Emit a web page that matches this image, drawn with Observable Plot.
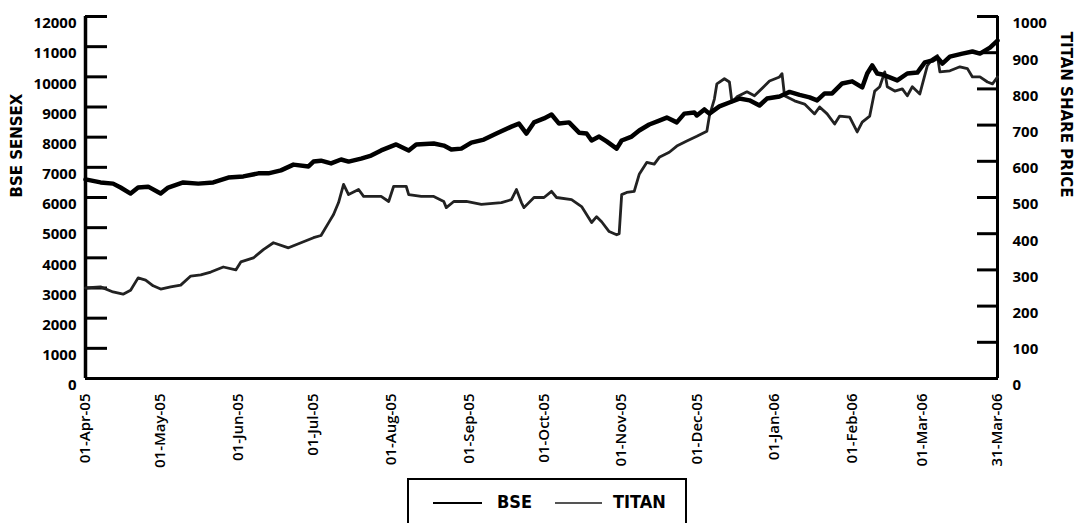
<!DOCTYPE html>
<html><head><meta charset="utf-8">
<script src="https://cdn.jsdelivr.net/npm/d3@7"></script>
<script src="https://cdn.jsdelivr.net/npm/@observablehq/plot@0.6"></script>
<style>
body{margin:0;background:#fff;overflow:hidden;}
#chart svg{display:block;}
#legend{position:relative;margin-left:407px;margin-top:8px;width:280px;height:60px;border:2px solid #000;box-sizing:border-box;font-family:"Liberation Sans Narrow","DejaVu Sans Condensed","Open Sans",sans-serif;font-weight:700;font-size:18px;color:#000;}
#legend .sw{position:absolute;height:2px;top:22px;background:#000;}
#legend .lab{position:absolute;top:11px;line-height:22px;}
</style></head><body>
<div id="chart"></div>
<div id="legend">
  <span class="sw" style="left:24px;width:49px;"></span><span class="lab" style="left:88px;">BSE</span>
  <span class="sw" style="left:146px;width:47px;height:1.5px;background:#555;"></span><span class="lab" style="left:204px;">TITAN</span>
</div>
<script>
const bseDates = ["2005-04-01","2005-04-07","2005-04-12","2005-04-15","2005-04-19","2005-04-22","2005-04-26","2005-05-01","2005-05-04","2005-05-10","2005-05-16","2005-05-22","2005-05-28","2005-06-03","2005-06-09","2005-06-13","2005-06-18","2005-06-23","2005-06-29","2005-07-01","2005-07-04","2005-07-08","2005-07-12","2005-07-15","2005-07-20","2005-07-24","2005-07-28","2005-08-03","2005-08-08","2005-08-11","2005-08-18","2005-08-22","2005-08-25","2005-08-29","2005-09-02","2005-09-07","2005-09-12","2005-09-18","2005-09-21","2005-09-24","2005-09-27","2005-10-01","2005-10-04","2005-10-07","2005-10-11","2005-10-15","2005-10-18","2005-10-20","2005-10-23","2005-10-26","2005-10-30","2005-11-01","2005-11-05","2005-11-08","2005-11-12","2005-11-16","2005-11-19","2005-11-23","2005-11-26","2005-11-30","2005-12-01","2005-12-04","2005-12-06","2005-12-10","2005-12-14","2005-12-18","2005-12-22","2005-12-26","2005-12-29","2006-01-03","2006-01-07","2006-01-11","2006-01-15","2006-01-18","2006-01-21","2006-01-24","2006-01-28","2006-02-01","2006-02-05","2006-02-07","2006-02-09","2006-02-11","2006-02-13","2006-02-16","2006-02-19","2006-02-23","2006-02-27","2006-03-02","2006-03-05","2006-03-07","2006-03-09","2006-03-12","2006-03-17","2006-03-21","2006-03-24","2006-03-28","2006-03-31"];
const bseValues = [6600,6500,6460,6330,6130,6330,6360,6130,6330,6500,6460,6500,6660,6700,6800,6800,6900,7090,7030,7190,7220,7130,7260,7190,7290,7390,7560,7760,7560,7760,7790,7720,7590,7620,7820,7920,8120,8350,8450,8120,8490,8620,8750,8450,8490,8150,8120,7890,8020,7860,7620,7890,8020,8220,8420,8550,8650,8490,8780,8820,8720,8920,8780,9020,9150,9280,9220,9050,9280,9350,9500,9400,9320,9220,9450,9450,9780,9850,9650,10110,10380,10110,10080,9980,9880,10110,10140,10480,10540,10640,10440,10670,10770,10840,10770,10970,11200];

const titanDates = ["2005-04-01","2005-04-07","2005-04-12","2005-04-16","2005-04-19","2005-04-22","2005-04-25","2005-04-28","2005-05-01","2005-05-05","2005-05-09","2005-05-13","2005-05-17","2005-05-21","2005-05-26","2005-05-31","2005-06-02","2005-06-07","2005-06-11","2005-06-15","2005-06-21","2005-06-26","2005-07-01","2005-07-04","2005-07-07","2005-07-09","2005-07-11","2005-07-13","2005-07-15","2005-07-19","2005-07-21","2005-07-28","2005-07-31","2005-08-02","2005-08-07","2005-08-08","2005-08-13","2005-08-18","2005-08-22","2005-08-23","2005-08-26","2005-08-31","2005-09-06","2005-09-14","2005-09-18","2005-09-20","2005-09-22","2005-09-23","2005-09-27","2005-10-01","2005-10-04","2005-10-06","2005-10-12","2005-10-16","2005-10-20","2005-10-22","2005-10-24","2005-10-27","2005-10-30","2005-10-31","2005-11-01","2005-11-03","2005-11-06","2005-11-08","2005-11-11","2005-11-14","2005-11-16","2005-11-20","2005-11-23","2005-11-27","2005-12-01","2005-12-05","2005-12-06","2005-12-08","2005-12-09","2005-12-12","2005-12-14","2005-12-15","2005-12-17","2005-12-21","2005-12-24","2005-12-28","2005-12-30","2006-01-03","2006-01-04","2006-01-05","2006-01-09","2006-01-13","2006-01-17","2006-01-19","2006-01-22","2006-01-25","2006-01-27","2006-01-31","2006-02-03","2006-02-05","2006-02-08","2006-02-10","2006-02-12","2006-02-14","2006-02-15","2006-02-18","2006-02-21","2006-02-23","2006-02-25","2006-02-28","2006-03-03","2006-03-05","2006-03-07","2006-03-08","2006-03-12","2006-03-16","2006-03-19","2006-03-21","2006-03-24","2006-03-27","2006-03-29","2006-03-31"];
const titanValues = [250,253,239,233,244,278,272,256,247,253,258,283,286,294,308,300,322,333,356,375,361,375,389,395,430,453,486,536,508,522,503,503,489,531,531,508,503,503,489,472,489,489,481,486,494,522,486,472,500,500,517,500,494,475,431,447,433,406,397,400,508,514,517,564,597,592,611,625,642,656,669,683,725,772,814,828,819,764,778,792,781,808,822,833,842,781,767,758,731,750,731,703,725,722,681,708,725,794,806,847,806,794,800,781,806,786,864,883,892,847,850,861,856,833,833,819,814,833];

const xTickDates = ["2005-04-01","2005-05-01","2005-06-01","2005-07-01","2005-08-01","2005-09-01","2005-10-01","2005-11-01","2005-12-01","2006-01-01","2006-02-01","2006-03-01","2006-03-31"];
const leftTicks = [0,1000,2000,3000,4000,5000,6000,7000,8000,9000,10000,11000,12000];
const rightTicks = [0,100,200,300,400,500,600,700,800,900,1000];
const leftTitle = "BSE SENSEX";
const rightTitle = "TITAN SHARE PRICE";
const RATIO = 12; // right axis (0-1000) mapped onto left axis (0-12000)

const parse = d3.utcParse("%Y-%m-%d");
const bse = bseDates.map((d, i) => ({date: parse(d), value: bseValues[i]}));
const titan = titanDates.map((d, i) => ({date: parse(d), value: titanValues[i]}));
const x0 = parse(xTickDates[0]), x1 = parse(xTickDates[xTickDates.length - 1]);
const numFont = "'Open Sans', sans-serif";
const titleFont = "'DejaVu Sans', sans-serif";

const chart = Plot.plot({
  width: 1074, height: 470,
  marginLeft: 85, marginRight: 77, marginTop: 16, marginBottom: 92,
  style: {fontFamily: numFont, fontSize: "15px", fontWeight: 700, color: "#000", background: "#fff"},
  x: {type: "utc", domain: [x0, x1]},
  y: {domain: [0, 12000]},
  marks: [
    Plot.axisY(leftTicks, {anchor: "left", tickSize: -22, strokeWidth: 3, fill: "none", label: null}),
    Plot.axisY(leftTicks, {anchor: "left", tickSize: 0, tickPadding: 9, dy: 7, label: null, tickFormat: d => String(d)}),
    Plot.axisY(rightTicks.map(v => v * RATIO), {anchor: "right", tickSize: -21, strokeWidth: 3, fill: "none", label: null}),
    Plot.axisY(rightTicks.map(v => v * RATIO), {anchor: "right", tickSize: 0, tickPadding: 15, dy: 7, label: null, tickFormat: d => String(Math.round(d / RATIO))}),
    Plot.axisX(xTickDates.map(parse), {tickSize: 0, tickRotate: -90, tickPadding: 15, fontSize: 15, fontWeight: 600, label: null, tickFormat: d3.utcFormat("%d-%b-%y")}),
    Plot.ruleY([0], {strokeWidth: 3}),
    Plot.ruleX([x0], {strokeWidth: 3.5}),
    Plot.ruleX([x1], {strokeWidth: 3}),
    Plot.lineY(titan, {x: "date", y: d => d.value * RATIO, stroke: "#222", strokeWidth: 2.8, strokeLinejoin: "round"}),
    Plot.lineY(bse, {x: "date", y: "value", stroke: "#000", strokeWidth: 4.5, strokeLinejoin: "round", strokeLinecap: "round"}),
    Plot.text([leftTitle], {frameAnchor: "left", rotate: -90, dx: -68, fontFamily: titleFont, fontSize: 15, fontWeight: 700, fill: "#000"}),
    Plot.text([rightTitle], {frameAnchor: "right", rotate: 90, dx: 68, fontFamily: titleFont, fontSize: 15, fontWeight: 700, fill: "#000"})
  ]
});
document.getElementById("chart").appendChild(chart);
</script>
</body></html>
